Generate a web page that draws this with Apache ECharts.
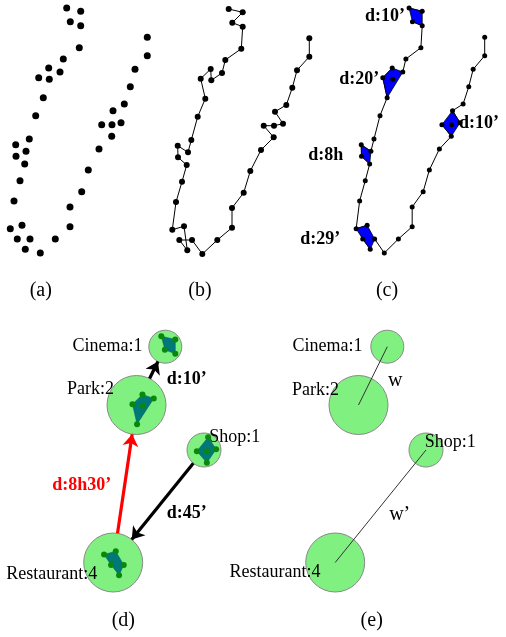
<!DOCTYPE html>
<html><head><meta charset="utf-8">
<script src="https://cdn.jsdelivr.net/npm/echarts@6/dist/echarts.min.js"></script>
<style>html,body{margin:0;padding:0;background:#fff}#c{width:506px;height:637px}</style>
</head><body><div id="c"></div>
<script>
// ---- DATA ----
// GPS trajectory points, in recorded order
const trajX = [66.7,80.7,70.3,80.7,79.3,63.3,60,49.3,48.7,38.7,43.3,35.7,29.3,26,15.7,16,24.7,20,14,10.3,22,25.3,17.3,30,40.3,55.3,70,70,81.7,88.3,99,111.7,101.7,112,121,113,124.3,130.3,135,147.3,147.3];
const trajY = [8,11.3,21.7,25.7,47.7,59,72,79.3,68,77.7,97.7,115.7,139,151.3,144.7,156.3,164,180.7,201,228.7,225.3,249.3,239,239,253,239,226.7,207,191.7,170,149,136.3,124.7,124.7,122.7,110.7,104,86.7,69.3,55.7,37.3];
// stay points: polygon (hull) point indices, inner point indices, durations
const stayHull = [[0,1,3,2],[8,6,10,9],[14,13,16,15],[19,20,23,21,22],[35,34,31,32]];
const stayInner = [[],[7],[],[],[33]];
const stayDur = ["d:10’","d:20’","d:8h","d:29’","d:10’"];
// places (semantic locations)
const placeNames = ["Cinema","Park","Shop","Restaurant"];
const placeVisits = [1,2,1,4];
const placeX = [165.3,136.5,204,113.2];
const placeY = [346.7,405,450,562.5];
const placeStay = [0,1,4,3];
// moves between places (d)
const moveFrom = ["Park","Restaurant","Shop"];
const moveTo = ["Cinema","Park","Restaurant"];
const moveDur = ["d:10’","d:8h30’","d:45’"];
// weighted links (e)
const linkFrom = ["Cinema","Shop"];
const linkTo = ["Park","Restaurant"];
const linkW = ["w","w’"];
const panelTags = ["(a)","(b)","(c)","(d)","(e)"];

// ---- STYLE / LAYOUT ----
const SERIF = '"Liberation Serif","Times New Roman",serif';
const circleSize = {Cinema:33, Park:59, Shop:34, Restaurant:59};
const innerShift = {Cinema:[3,-1.7], Park:[6.6,4.3], Shop:[2.5,0], Restaurant:[0.7,0.7]};
const stayLabelSide = ['left','left','left','left','right'];
const stayLabelGap = [4,3.5,18,16,-1];
const stayLabelDy = [0,0,1,3.5,0];
const moveColor = ['#000','#ff0000','#000'];
const moveLabelOff = [[35.8,3.4],[-43.2,1.2],[28.1,7]];
const linkLabelOff = [[22.3,5.2],[19.1,8.1]];
const labelD = {Cinema:['left',[-5.8,-0.7]], Park:['left',[7.6,-15.7]], Shop:['right',[-12.3,-12.3]], Restaurant:['left',[14,11.7]]};
const labelE = {Cinema:['left',[-7.7,-0.7]], Park:['left',[10.6,-14.3]], Shop:['right',[-18.7,-8]], Restaurant:['left',[15.3,10]]};
const tagPos = [[40.8,291],[200,291],[387,291],[123.3,621],[371.7,621]];

const pts = trajX.map((x,i)=>[x,trajY[i]]);
const pIdx = n => placeNames.indexOf(n);

function edge(a,b,t0,t1){
  const ia=pIdx(a), ib=pIdx(b);
  const ax=placeX[ia], ay=placeY[ia], bx=placeX[ib], by=placeY[ib];
  const dx=bx-ax, dy=by-ay, L=Math.hypot(dx,dy), ux=dx/L, uy=dy/L;
  return [[ax+ux*t0, ay+uy*t0],[bx-ux*t1, by-uy*t1]];
}
function mid(a,b){const ia=pIdx(a), ib=pIdx(b);return [(placeX[ia]+placeX[ib])/2,(placeY[ia]+placeY[ib])/2];}

// stay label anchors
const stayAnchors = stayHull.map((h,k)=>{
  const xs=h.map(i=>trajX[i]), ys=h.map(i=>trajY[i]);
  const my=ys.reduce((s,v)=>s+v,0)/ys.length + stayLabelDy[k];
  const side=stayLabelSide[k];
  return {value:[side==='left'?Math.min(...xs):Math.max(...xs), my],
    label:{position:side, distance:stayLabelGap[k]}, name:stayDur[k]};
});

// clusters placed inside place circles (d)
const dPolys = [], dDots = [];
placeNames.forEach((n,p)=>{
  const k=placeStay[p], h=stayHull[k];
  const xs=h.map(i=>trajX[i]), ys=h.map(i=>trajY[i]);
  const cx=(Math.min(...xs)+Math.max(...xs))/2, cy=(Math.min(...ys)+Math.max(...ys))/2;
  const tx=placeX[p]+innerShift[n][0]-cx, ty=placeY[p]+innerShift[n][1]-cy;
  dPolys.push(h.map(i=>[trajX[i]+tx, trajY[i]+ty]));
  h.concat(stayInner[k]).forEach(i=>dDots.push([trajX[i]+tx, trajY[i]+ty]));
});

function placeData(lab){
  return placeNames.map((n,p)=>({name:n+':'+placeVisits[p], value:[placeX[p],placeY[p]],
    symbolSize:circleSize[n], label:{position:lab[n][0], distance:0, offset:lab[n][1]}}));
}

const grids=[{left:0,top:0,width:170,height:260},{left:162,top:1,width:170,height:260},{left:346.5,top:0,width:170,height:260},
  {left:0,top:310,width:250,height:300},{left:222,top:310,width:250,height:300}];
const xAxis=grids.map((g,i)=>({gridIndex:i,type:'value',min:0,max:i<3?170:250,show:false}));
const yAxis=grids.map((g,i)=>({gridIndex:i,type:'value',min:i<3?0:310,max:i<3?260:610,inverse:true,show:false}));
const ax = i => ({xAxisIndex:i,yAxisIndex:i});
const BLACK = {color:'#000',opacity:1};

const series=[
  Object.assign({type:'scatter',data:pts,symbolSize:7,itemStyle:BLACK,silent:true},ax(0)),
  Object.assign({type:'line',data:pts,symbol:'circle',symbolSize:6,showSymbol:true,lineStyle:{color:'#000',width:1},itemStyle:BLACK,silent:true},ax(1)),
  Object.assign({type:'line',data:pts,showSymbol:false,lineStyle:{color:'#000',width:1},z:1,silent:true},ax(2)),
  Object.assign({type:'custom',z:2,silent:true,data:stayHull.map(h=>pts[h[0]]),
    renderItem:(params,api)=>({type:'polygon',shape:{points:stayHull[params.dataIndex].map(i=>api.coord(pts[i]))},
      style:{fill:'#0000ff',stroke:'#000',lineWidth:0.8}})},ax(2)),
  Object.assign({type:'scatter',data:pts,symbolSize:5,itemStyle:BLACK,z:3,silent:true},ax(2)),
  Object.assign({type:'scatter',data:stayAnchors,symbolSize:0,z:4,silent:true,itemStyle:{opacity:1},
    label:{show:true,formatter:'{b}',fontFamily:SERIF,fontSize:18,fontWeight:'bold',color:'#000'}},ax(2)),
  // panel d
  Object.assign({type:'scatter',data:placeData(labelD),z:1,silent:true,
    itemStyle:{color:'#80f080',borderColor:'#888',borderWidth:1,opacity:1},
    label:{show:true,formatter:'{b}',fontFamily:SERIF,fontSize:18,color:'#000'}},ax(3)),
  Object.assign({type:'custom',z:2,silent:true,data:dPolys.map(p=>p[0]),
    renderItem:(params,api)=>({type:'polygon',shape:{points:dPolys[params.dataIndex].map(q=>api.coord(q))},
      style:{fill:'#007878',stroke:'#006060',lineWidth:0.5}})},ax(3)),
  Object.assign({type:'scatter',data:dDots,symbolSize:6,z:3,silent:true,itemStyle:{color:'#0a880a',opacity:1}},ax(3)),
  Object.assign({type:'lines',coordinateSystem:'cartesian2d',z:4,silent:true,symbol:['none','arrow'],symbolSize:12,
    data:moveFrom.map((f,i)=>({coords:edge(f,moveTo[i],circleSize[f]/2,circleSize[moveTo[i]]/2),
      lineStyle:{color:moveColor[i],width:3.2}})),lineStyle:{opacity:1,curveness:0}},ax(3)),
  Object.assign({type:'scatter',symbolSize:0,z:5,silent:true,itemStyle:{opacity:1},
    data:moveFrom.map((f,i)=>{const m=mid(f,moveTo[i]);return {name:moveDur[i],value:[m[0]+moveLabelOff[i][0],m[1]+moveLabelOff[i][1]],
      label:{color:moveColor[i]}};}),
    label:{show:true,position:'inside',formatter:'{b}',fontFamily:SERIF,fontSize:18,fontWeight:'bold'}},ax(3)),
  // panel e
  Object.assign({type:'scatter',data:placeData(labelE),z:1,silent:true,
    itemStyle:{color:'#80f080',borderColor:'#888',borderWidth:1,opacity:1},
    label:{show:true,formatter:'{b}',fontFamily:SERIF,fontSize:18,color:'#000'}},ax(4)),
  Object.assign({type:'lines',coordinateSystem:'cartesian2d',z:2,silent:true,symbol:['none','none'],
    data:linkFrom.map((f,i)=>({coords:edge(f,linkTo[i],0,0)})),lineStyle:{color:'#333',width:1,opacity:1}},ax(4)),
  Object.assign({type:'scatter',symbolSize:0,z:5,silent:true,itemStyle:{opacity:1},
    data:linkFrom.map((f,i)=>{const m=mid(f,linkTo[i]);return {name:linkW[i],value:[m[0]+linkLabelOff[i][0],m[1]+linkLabelOff[i][1]]};}),
    label:{show:true,position:'inside',formatter:'{b}',fontFamily:SERIF,fontSize:20,color:'#000'}},ax(4))
];

const chart=echarts.init(document.getElementById('c'),null,{renderer:'canvas'});
chart.setOption({
  animation:false,
  grid:grids, xAxis:xAxis, yAxis:yAxis, series:series,
  graphic:panelTags.map((t,i)=>({type:'text',x:tagPos[i][0],y:tagPos[i][1],silent:true,
    style:{text:t,fontFamily:SERIF,fontSize:20,fill:'#000',align:'center',verticalAlign:'middle'}}))
});
</script></body></html>
